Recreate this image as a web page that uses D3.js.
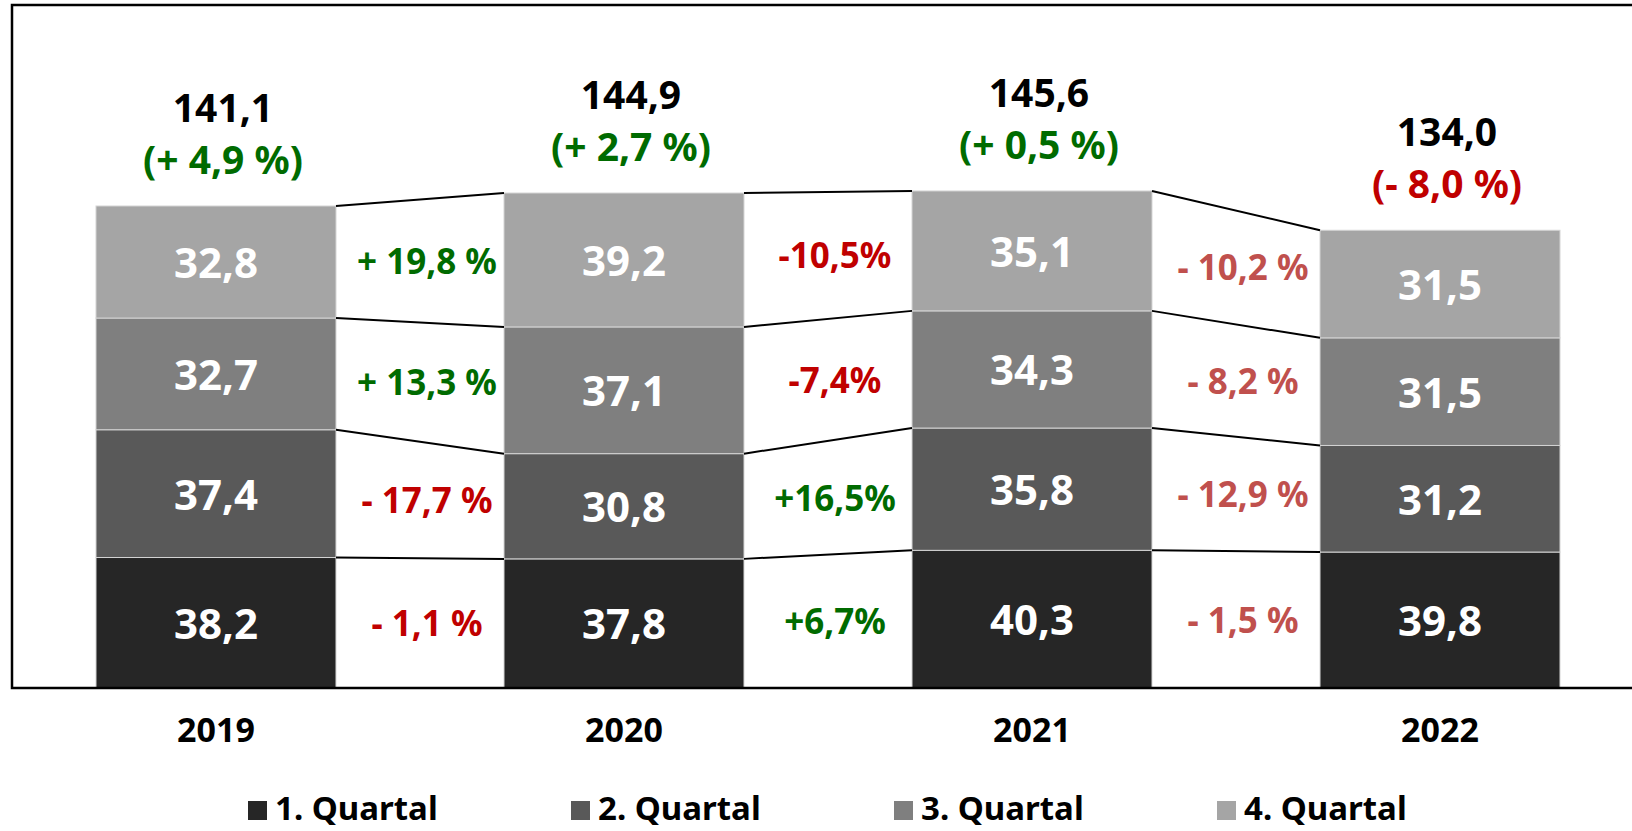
<!DOCTYPE html>
<html lang="de">
<head>
<meta charset="utf-8">
<title>Quartale 2019 - 2022</title>
<style>
body{
  margin: 0;
  background: #fff;
}
#chart text{
  font-family: "Noto Sans", "Open Sans", sans-serif;
  font-weight: bold;
}
</style>
<script src="https://d3js.org/d3.v7.min.js"></script>
</head>
<body>
<div id="chart"></div>

<script>
/* data */
var years = ['2019', '2020', '2021', '2022'];
var quarters = ['1. Quartal', '2. Quartal', '3. Quartal', '4. Quartal'];
var q1 = [38.2, 37.8, 40.3, 39.8];
var q2 = [37.4, 30.8, 35.8, 31.2];
var q3 = [32.7, 37.1, 34.3, 31.5];
var q4 = [32.8, 39.2, 35.1, 31.5];
var totals = [141.1, 144.9, 145.6, 134.0];
var totalChange = ['(+ 4,9 %)', '(+ 2,7 %)', '(+ 0,5 %)', '(- 8,0 %)'];
/* change between neighbouring years, per quarter (Q1..Q4) */
var change1920 = ['- 1,1 %', '- 17,7 %', '+ 13,3 %', '+ 19,8 %'];
var change2021 = ['+6,7%', '+16,5%', '-7,4%', '-10,5%'];
var change2122 = ['- 1,5 %', '- 12,9 %', '- 8,2 %', '- 10,2 %'];

var width = 1632, height = 831;
var baseY = 688;

var colors = ['#262626', '#595959', '#7f7f7f', '#a5a5a5'];
var green = '#006b00', red = '#c00000', lightRed = '#c0504d';

var series = [q1, q2, q3, q4];
var changes = [change1920, change2021, change2122];

/* build stacked table */
var table = years.map(function(y, i) {
  var row = { year: y };
  quarters.forEach(function(q, j) { row[q] = series[j][i]; });
  return row;
});
var stacked = d3.stack().keys(quarters)(table);

var xScale = d3.scaleBand()
  .domain(years)
  .range([96, 1560])
  .paddingInner(0.4118)
  .paddingOuter(0);

var yScale = d3.scaleLinear()
  .domain([0, 150])
  .range([baseY, baseY - 150 * 3.416]);

var svg = d3.select('#chart')
  .append('svg')
  .attr('width', width)
  .attr('height', height);

var bw = xScale.bandwidth();

/* bars */
var layer = svg.selectAll('g.layer')
  .data(stacked)
  .enter()
  .append('g')
  .attr('class', 'layer')
  .style('fill', function(d, j) { return colors[j]; });

layer.selectAll('rect')
  .data(function(d) { return d; })
  .enter()
  .append('rect')
  .attr('x', function(d) { return xScale(d.data.year); })
  .attr('y', function(d) { return yScale(d[1]); })
  .attr('width', bw)
  .attr('height', function(d) { return yScale(d[0]) - yScale(d[1]); })
  .style('stroke', '#d4d4d4')
  .style('stroke-width', 1);

/* values inside the bars */
layer.selectAll('text')
  .data(function(d) { return d; })
  .enter()
  .append('text')
  .attr('x', function(d) { return xScale(d.data.year) + bw / 2; })
  .attr('y', function(d) { return (yScale(d[0]) + yScale(d[1])) / 2 + 16; })
  .attr('text-anchor', 'middle')
  .style('font-size', '42px')
  .style('fill', '#fff')
  .text(function(d) { return d3.format('.1f')(d[1] - d[0]).replace('.', ','); });

/* connector lines between the bars */
var links = [];
stacked.forEach(function(s, j) {
  for (var i = 0; i < years.length - 1; i++) {
    links.push({ x1: xScale(years[i]) + bw, y1: yScale(s[i][1]),
                 x2: xScale(years[i + 1]), y2: yScale(s[i + 1][1]) });
  }
});

svg.selectAll('line.link')
  .data(links)
  .enter()
  .append('line')
  .attr('class', 'link')
  .attr('x1', function(d) { return d.x1; })
  .attr('y1', function(d) { return d.y1; })
  .attr('x2', function(d) { return d.x2; })
  .attr('y2', function(d) { return d.y2; })
  .style('stroke', '#000')
  .style('stroke-width', 2);

/* change labels in the gaps */
var changeData = [];
changes.forEach(function(c, g) {
  c.forEach(function(label, j) {
    var a = stacked[j][g], b = stacked[j][g + 1];
    var mid = (yScale(a[0]) + yScale(a[1]) + yScale(b[0]) + yScale(b[1])) / 4;
    changeData.push({ label: label, gap: g,
      x: (xScale(years[g]) + bw + xScale(years[g + 1])) / 2 + 7,
      y: mid + 13 });
  });
});

svg.selectAll('text.change')
  .data(changeData)
  .enter()
  .append('text')
  .attr('class', 'change')
  .attr('x', function(d) { return d.x; })
  .attr('y', function(d) { return d.y; })
  .attr('text-anchor', 'middle')
  .style('font-size', '35px')
  .style('fill', function(d) {
    if (d.label.indexOf('+') >= 0) return green;
    return d.gap === 2 ? lightRed : red;
  })
  .text(function(d) { return d.label; });

/* totals above the bars */
var topLayer = stacked[stacked.length - 1];
svg.selectAll('text.total')
  .data(years)
  .enter()
  .append('text')
  .attr('class', 'total')
  .attr('x', function(d) { return xScale(d) + bw / 2 + 7; })
  .attr('y', function(d, i) { return yScale(topLayer[i][1]) - 84; })
  .attr('text-anchor', 'middle')
  .style('font-size', '39px')
  .style('fill', '#000')
  .text(function(d, i) { return d3.format('.1f')(totals[i]).replace('.', ','); });

svg.selectAll('text.totalChange')
  .data(years)
  .enter()
  .append('text')
  .attr('class', 'totalChange')
  .attr('x', function(d) { return xScale(d) + bw / 2 + 7; })
  .attr('y', function(d, i) { return yScale(topLayer[i][1]) - 32; })
  .attr('text-anchor', 'middle')
  .style('font-size', '39px')
  .style('fill', function(d, i) { return totalChange[i].indexOf('+') >= 0 ? green : red; })
  .text(function(d, i) { return totalChange[i]; });

/* frame: left, top and bottom */
svg.append('path')
  .attr('d', 'M' + width + ',5 H12 V' + baseY + ' H' + width)
  .style('fill', 'none')
  .style('stroke', '#000')
  .style('stroke-width', 2.5);

/* year axis */
var xAxis = svg.append('g')
  .attr('transform', 'translate(0,' + baseY + ')')
  .call(d3.axisBottom(xScale).tickSize(0).tickPadding(30));
xAxis.select('.domain').remove();
xAxis.selectAll('text')
  .attr('dy', '0.71em')
  .style('font-size', '34px')
  .style('fill', '#000');

/* legend */
var legendScale = d3.scaleBand()
  .domain(quarters)
  .range([248, 248 + 4 * 323]);

var legend = svg.selectAll('g.legend')
  .data(quarters)
  .enter()
  .append('g')
  .attr('class', 'legend')
  .attr('transform', function(d) { return 'translate(' + legendScale(d) + ',820)'; });

legend.append('rect')
  .attr('x', 0)
  .attr('y', -19)
  .attr('width', 19)
  .attr('height', 19)
  .style('fill', function(d, j) { return colors[j]; });

legend.append('text')
  .attr('x', 27)
  .attr('y', 0)
  .style('font-size', '33px')
  .style('fill', '#000')
  .text(function(d) { return d; });
</script>
</body>
</html>
